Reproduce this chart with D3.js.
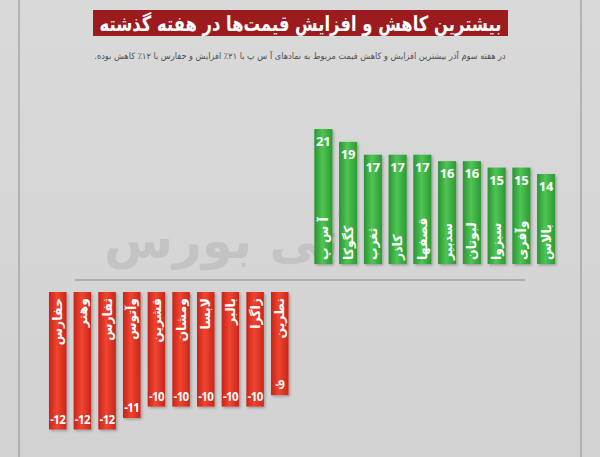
<!DOCTYPE html>
<html><head><meta charset="utf-8">
<script src="https://cdn.jsdelivr.net/npm/d3@7/dist/d3.min.js"></script>
<style>html,body{margin:0;padding:0;background:#d6d6d6;}svg{display:block;}</style>
</head><body>
<script>
const titleText = "بیشترین کاهش و افزایش قیمت‌ها در هفته گذشته";
const subtitleText = "در هفته سوم آذر بیشترین افزایش و کاهش قیمت مربوط به نمادهای آ س پ با ۲۱٪ افزایش و حفارس با ۱۲٪ کاهش بوده.";
const gainNames = ["آ س پ","کگوکا","ثغرب","کاذر","قصفها","سدبیر","لبوتان","سبزوا","وآفری","بالاس"];
const gainValues = [21,19,17,17,17,16,16,15,15,14];
const lossNames = ["حفارس","وهنر","ثفارس","وآتوس","قشرین","ومشان","لابسا","بالبر","زاگرا","نطرین"];
const lossValues = [-12,-12,-12,-11,-10,-10,-10,-10,-10,-9];

const W = 600, H = 457;
const svg = d3.select("body").append("svg").attr("width", W).attr("height", H);
const defs = svg.append("defs");

const gg = defs.append("linearGradient").attr("id","gGreen").attr("x1","0").attr("x2","1").attr("y1","0").attr("y2","0");
gg.append("stop").attr("offset","0").attr("stop-color","#2a9434");
gg.append("stop").attr("offset","0.45").attr("stop-color","#4fc553");
gg.append("stop").attr("offset","1").attr("stop-color","#2b9a35");
const gr = defs.append("linearGradient").attr("id","gRed").attr("x1","0").attr("x2","1").attr("y1","0").attr("y2","0");
gr.append("stop").attr("offset","0").attr("stop-color","#c9231b");
gr.append("stop").attr("offset","0.45").attr("stop-color","#f0452f");
gr.append("stop").attr("offset","1").attr("stop-color","#c8261c");
const bg = defs.append("linearGradient").attr("id","gBg").attr("x1","0").attr("x2","0").attr("y1","0").attr("y2","1");
bg.append("stop").attr("offset","0").attr("stop-color","#d9d9d9");
bg.append("stop").attr("offset","1").attr("stop-color","#d2d2d2");
const sh = defs.append("filter").attr("id","shadow").attr("x","-20%").attr("y","-5%").attr("width","150%").attr("height","115%");
sh.append("feDropShadow").attr("dx",1.5).attr("dy",1.5).attr("stdDeviation",1).attr("flood-color","#000").attr("flood-opacity",0.25);

svg.append("rect").attr("width",W).attr("height",H).attr("fill","url(#gBg)");
svg.append("line").attr("x1",19).attr("x2",19).attr("y1",0).attr("y2",H).attr("stroke","#8e8e8e").attr("stroke-width",1);
svg.append("line").attr("x1",581).attr("x2",581).attr("y1",0).attr("y2",H).attr("stroke","#8e8e8e").attr("stroke-width",1);

function fitText(sel, cx, cy, maxW){
  const w = sel.node().getComputedTextLength();
  const s = Math.min(1, maxW / w);
  sel.attr("x",0).attr("y",0).attr("transform",`translate(${cx},${cy}) scale(${s},1)`);
}

// title
svg.append("rect").attr("x",93).attr("y",10).attr("width",415).attr("height",26).attr("fill","#9b1b1f");
const t = svg.append("text").attr("text-anchor","middle")
  .attr("font-family","DejaVu Sans").attr("font-weight","bold").attr("font-size",21).attr("fill","#fff")
  .attr("direction","rtl").text(titleText);
fitText(t, 300.5, 30.5, 402);
const st = svg.append("text").attr("text-anchor","middle")
  .attr("font-family","DejaVu Sans").attr("font-size",9).attr("fill","#505050")
  .attr("direction","rtl").text(subtitleText);
fitText(st, 300, 59, 412);

// watermark
svg.append("text").attr("x",230).attr("y",258).attr("text-anchor","middle")
  .attr("font-family","DejaVu Sans").attr("font-weight","bold").attr("font-size",50).attr("fill","#c3c3c3")
  .attr("direction","rtl").text("آتی بورس");

// separator line
svg.append("line").attr("x1",75).attr("x2",525).attr("y1",280).attr("y2",280).attr("stroke","#8a8a8a").attr("stroke-width",1.2);

// gains
const xG = d3.scaleBand().domain(gainNames).range([311,558.5]).paddingInner(0.27).paddingOuter(0.135);
const yG = d3.scaleLinear().domain([0,21]).range([264,129]);
const gG = svg.append("g");
gG.selectAll("rect").data(gainNames).join("rect")
  .attr("x", d=>xG(d)).attr("width", xG.bandwidth())
  .attr("y", (d,i)=>yG(gainValues[i])).attr("height",(d,i)=>yG(0)-yG(gainValues[i]))
  .attr("fill","url(#gGreen)").attr("filter","url(#shadow)");
gG.selectAll("text.v").data(gainNames).join("text").attr("class","v")
  .attr("x", d=>xG(d)+xG.bandwidth()/2).attr("y",(d,i)=>yG(gainValues[i])+17)
  .attr("text-anchor","middle").attr("font-family","Open Sans").attr("font-weight","bold")
  .attr("font-size",13).attr("fill","#fff").text((d,i)=>gainValues[i]);
gG.selectAll("text.n").data(gainNames).join("text").attr("class","n")
  .attr("transform", d=>`translate(${xG(d)+xG.bandwidth()/2+4.5},${yG(0)-4}) rotate(-90)`)
  .attr("text-anchor","start").attr("font-family","DejaVu Sans").attr("font-weight","bold")
  .attr("font-size",12.5).attr("fill","#fff").text(d=>d);

// losses
const xL = d3.scaleBand().domain(lossNames).range([45.4,292.1]).paddingInner(0.29).paddingOuter(0.145);
const yL = d3.scaleLinear().domain([0,-12]).range([292,429.5]);
const gL = svg.append("g");
gL.selectAll("rect").data(lossNames).join("rect")
  .attr("x", d=>xL(d)).attr("width", xL.bandwidth())
  .attr("y", yL(0)).attr("height",(d,i)=>yL(lossValues[i])-yL(0))
  .attr("fill","url(#gRed)").attr("filter","url(#shadow)");
gL.selectAll("text.v").data(lossNames).join("text").attr("class","v")
  .attr("x", d=>xL(d)+xL.bandwidth()/2).attr("y",(d,i)=>yL(lossValues[i])-6)
  .attr("text-anchor","middle").attr("font-family","Open Sans").attr("font-weight","bold")
  .attr("font-size",11.5).attr("letter-spacing",-0.6).attr("fill","#fff").text((d,i)=>lossValues[i]);
gL.selectAll("text.n").data(lossNames).join("text").attr("class","n")
  .attr("transform", d=>`translate(${xL(d)+xL.bandwidth()/2+4.5},${yL(0)+6}) rotate(-90)`)
  .attr("text-anchor","end").attr("font-family","DejaVu Sans").attr("font-weight","bold")
  .attr("font-size",12.5).attr("fill","#fff").text(d=>d);
</script>
</body></html>
